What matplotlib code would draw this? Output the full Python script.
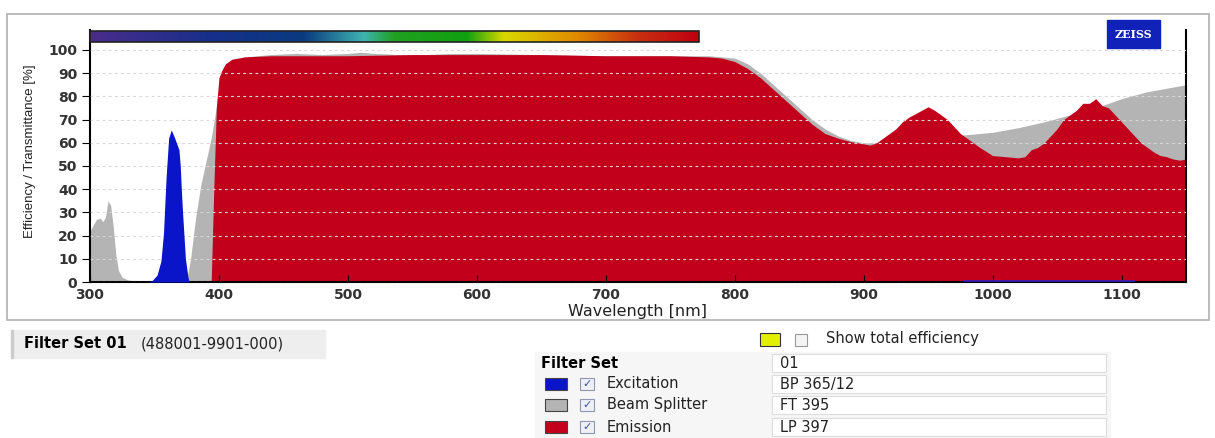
import numpy as np
import matplotlib.pyplot as plt
from matplotlib.colors import LinearSegmentedColormap
from matplotlib.patches import Rectangle

# beam splitter FT 395 (grey)
bs_nm = [300, 302, 305, 308, 310, 312, 314, 316, 318, 320, 322, 325, 330, 340, 350, 360, 370, 375,
         378, 382, 386, 390, 394, 397, 400, 403, 406, 410, 420, 440, 460, 480, 500, 510, 520, 540,
         560, 580, 600, 650, 700, 750, 780, 800, 810, 820, 830, 840, 850, 860, 870, 880, 890, 900,
         910, 920, 940, 960, 980, 1000, 1020, 1040, 1060, 1080, 1100, 1120, 1140, 1150]
bs_val = [22, 24, 27, 27.5, 26, 28, 35, 33, 24, 12, 5, 2, 0.8, 0.3, 0.2, 0.2, 0.3, 1,
          10, 28, 42, 52, 62, 72, 84, 90, 93, 95, 97, 98, 98.5, 98, 98.5, 99, 98.5, 98,
          98, 98.5, 98.5, 98, 97.5, 97.5, 97.5, 96.5, 94, 90, 85, 80, 75, 70, 66, 63, 61, 60,
          60, 60.5, 61.5, 62.5, 63.5, 64.5, 66.5, 69, 72, 75, 79, 82, 84, 85]

# emission LP 397 (red)
em_nm = [394, 396, 398, 400, 402, 405, 410, 420, 440, 460, 500, 550, 600, 650, 700, 750, 780, 790,
         800, 810, 820, 830, 840, 850, 860, 870, 880, 890, 900, 905, 910, 915, 920, 925, 930, 935,
         940, 945, 950, 955, 960, 965, 970, 975, 980, 990, 1000, 1010, 1020, 1025, 1030, 1035, 1040,
         1045, 1050, 1055, 1060, 1065, 1070, 1075, 1080, 1085, 1090, 1095, 1100, 1105, 1110, 1115,
         1120, 1125, 1130, 1135, 1140, 1145, 1150]
em_val = [0, 40, 75, 88, 91, 94, 96, 97, 97.5, 97.5, 97.5, 98, 98, 98, 97.5, 97.5, 97, 96.5,
          95, 92, 88, 83, 78, 73, 68, 64, 62, 60.5, 59.5, 59, 60, 62, 64, 66, 69, 71,
          72.5, 74, 75.5, 74, 72, 70, 67, 64, 62, 58, 54.5, 54, 53.5, 54, 57, 58, 60,
          63, 66, 70, 72, 74, 77, 77, 79, 76, 75, 72, 69, 66, 63, 60,
          58, 56, 54.5, 54, 53, 52.5, 53]

# excitation BP 365/12 (blue)
ex_nm = [344, 348, 352, 355, 357, 359, 361, 363, 365, 367, 369, 370, 371, 372, 374, 376, 377]
ex_val = [0, 0.5, 3, 9, 21, 45, 62, 65.5, 63, 60, 57, 50, 38, 28, 10, 2, 0]
ex_tail_nm = [978, 1110]
ex_tail_val = [0.4, 0.4]

yticks = list(range(0, 101, 10))
xticks = [300, 400, 500, 600, 700, 800, 900, 1000, 1100]

fig = plt.figure(figsize=(12.15, 4.38), dpi=100)
W, H = 1215, 438

def fx(px):
    return px / W

def fy(py):
    return 1 - py / H

# outer panel frame
fig.patches.append(Rectangle((fx(7), fy(320)), fx(1202), 306 / H, transform=fig.transFigure,
                             fill=False, edgecolor='#b0b0b0', lw=1.2))

ax = fig.add_axes([fx(90), fy(282), fx(1096), 252 / H])
ax.fill_between(bs_nm, bs_val, color='#b4b4b4', lw=0, zorder=1)
ax.fill_between(em_nm, em_val, color='#c2001b', lw=0, zorder=2)
ax.fill_between(ex_nm, ex_val, color='#0a14c8', lw=0, zorder=3)
ax.plot(ex_tail_nm, ex_tail_val, color='#3020c0', lw=1.2, zorder=3)

ax.set_xlim(300, 1150)
ax.set_ylim(0, 108.6)
ax.set_xticks(xticks)
ax.set_yticks(yticks)
ax.grid(axis='y', color='#d8d8d8', linestyle=(0, (2.5, 3)), lw=0.8, zorder=4)
ax.set_axisbelow(False)
ax.tick_params(axis='x', direction='in', length=5, labelsize=10, pad=4)
ax.tick_params(axis='y', direction='out', length=6, labelsize=10, pad=3)
for lab in ax.get_xticklabels() + ax.get_yticklabels():
    lab.set_fontweight('bold')
    lab.set_color('#333333')
ax.spines['top'].set_visible(False)
ax.spines['left'].set_linewidth(1.5)
ax.spines['bottom'].set_linewidth(1.5)
ax.spines['right'].set_linewidth(1.5)
ax.set_xlabel('Wavelength [nm]', fontsize=11.5, color='#222222')
ax.xaxis.set_label_coords(0.5, -0.087)
ax.set_ylabel('Efficiency / Transmittance [%]', fontsize=9.5,
              family=['Liberation Sans Narrow', 'Liberation Sans'], color='#222222')
ax.yaxis.set_label_coords(-0.049, 0.518)

# spectrum colour bar
stops = [(0.0, '#4a2c8c'), (0.2, '#16308a'), (0.35, '#0a3a80'), (0.45, '#40b4b0'),
         (0.5, '#20a020'), (0.62, '#10a010'), (0.68, '#d8d800'), (0.8, '#e08a00'),
         (0.9, '#c83010'), (1.0, '#c00010')]
cmap = LinearSegmentedColormap.from_list('spec', stops)
grad = np.linspace(0, 1, 256).reshape(1, -1)
ax.imshow(grad, cmap=cmap, aspect='auto', extent=[300, 772, 103.5, 108.2], zorder=5, clip_on=False)
ax.add_patch(Rectangle((300, 103.5), 472, 4.7, fill=False, edgecolor='#222222', lw=1.2, zorder=6,
                       clip_on=False))
ax.set_xlim(300, 1150)
ax.set_ylim(0, 108.6)

# ZEISS logo
fig.patches.append(Rectangle((fx(1107), fy(48)), fx(53), 28 / H, transform=fig.transFigure,
                             color='#1022b8'))
fig.text(fx(1133.5), fy(35), 'ZEISS', color='white', fontsize=8, fontweight='bold',
         family='DejaVu Serif', ha='center', va='center')

# filter set caption
fig.patches.append(Rectangle((fx(12), fy(358)), fx(313), 28 / H, transform=fig.transFigure,
                             color='#eeeeee'))
fig.patches.append(Rectangle((fx(11), fy(358)), fx(2), 28 / H, transform=fig.transFigure,
                             color='#cccccc'))
fig.text(fx(24), fy(344), 'Filter Set 01', fontsize=10.5, fontweight='bold',
         family='DejaVu Sans', va='center')
fig.text(fx(141), fy(344), '(488001-9901-000)', fontsize=10.5, family='DejaVu Sans',
         va='center', color='#222222')

# legend table
fig.patches.append(Rectangle((fx(535), fy(438)), fx(575), 86 / H, transform=fig.transFigure,
                             color='#f6f6f6'))
fig.patches.append(Rectangle((fx(760), fy(346)), fx(20), 13 / H, transform=fig.transFigure,
                             facecolor='#e0f000', edgecolor='#333333', lw=0.8))
fig.patches.append(Rectangle((fx(795), fy(346)), fx(12), 12 / H, transform=fig.transFigure,
                             facecolor='#f4f4f4', edgecolor='#999999', lw=0.8))
fig.text(fx(826), fy(339), 'Show total efficiency', fontsize=10.5, family='DejaVu Sans',
         va='center', color='#222222')
fig.text(fx(541), fy(363), 'Filter Set', fontsize=10.5, fontweight='bold', family='DejaVu Sans',
         va='center')

rows = ['01', 'BP 365/12', 'FT 395', 'LP 397']
names = ['Excitation', 'Beam Splitter', 'Emission']
swatch = ['#0a14c8', '#b4b4b4', '#c2001b']
row_y = [363, 384, 405, 427]
for y, val in zip(row_y, rows):
    fig.patches.append(Rectangle((fx(772), fy(y + 9)), fx(334), 18 / H, transform=fig.transFigure,
                                 facecolor='white', edgecolor='#dddddd', lw=0.8))
    fig.text(fx(780), fy(y), val, fontsize=10.5, family='DejaVu Sans', va='center',
             color='#222222')
for y, name, col in zip(row_y[1:], names, swatch):
    fig.patches.append(Rectangle((fx(545), fy(y + 6)), fx(22), 12 / H, transform=fig.transFigure,
                                 facecolor=col, edgecolor='#444444', lw=0.8))
    fig.patches.append(Rectangle((fx(580), fy(y + 6)), fx(14), 12 / H, transform=fig.transFigure,
                                 facecolor='#eef0f8', edgecolor='#9098b0', lw=0.8))
    fig.text(fx(587), fy(y), '\u2713', fontsize=8, color='#4050a0', ha='center', va='center',
             family='DejaVu Sans')
    fig.text(fx(607), fy(y), name, fontsize=10.5, family='DejaVu Sans', va='center',
             color='#222222')

plt.savefig('out.png', dpi=100)
